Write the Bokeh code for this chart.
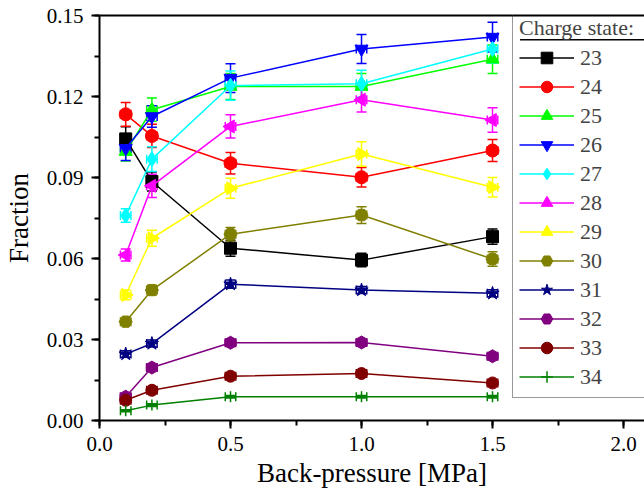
from bokeh.plotting import figure
from bokeh.models import (ColumnDataSource, Whisker, TeeHead, Legend, LegendItem,
                          SingleIntervalTicker, NumeralTickFormatter, LinearAxis,
                          Range1d, BoxAnnotation)
from bokeh.embed import file_html
from bokeh.resources import INLINE
import math

# Back-pressure [MPa]
pressure = [0.1, 0.2, 0.5, 1.0, 1.5]
pressure_err = [0.02, 0.02, 0.02, 0.02, 0.02]

charges = ["23", "24", "25", "26", "27", "28", "29", "30", "31", "32", "33", "34"]

f23 = [0.1043, 0.0885, 0.0638, 0.0594, 0.0681]
f24 = [0.1134, 0.1054, 0.0953, 0.0901, 0.1000]
f25 = [0.0996, 0.1151, 0.1237, 0.1237, 0.1338]
f26 = [0.1008, 0.1126, 0.1268, 0.1376, 0.1420]
f27 = [0.0759, 0.0968, 0.1240, 0.1247, 0.1376]
f28 = [0.0613, 0.0869, 0.1089, 0.1188, 0.1113]
f29 = [0.0465, 0.0675, 0.0860, 0.0987, 0.0864]
f30 = [0.0366, 0.0483, 0.0690, 0.0761, 0.0598]
f31 = [0.0246, 0.0285, 0.0505, 0.0483, 0.0471]
f32 = [0.0088, 0.0196, 0.0288, 0.0289, 0.0238]
f33 = [0.0075, 0.0112, 0.0164, 0.0174, 0.0139]
f34 = [0.0036, 0.0057, 0.0088, 0.0088, 0.0088]

e23 = [0.0045, 0.0035, 0.0030, 0.0025, 0.0028]
e24 = [0.0044, 0.0043, 0.0040, 0.0036, 0.0041]
e25 = [0.0035, 0.0043, 0.0048, 0.0048, 0.0053]
e26 = [0.0045, 0.0040, 0.0053, 0.0054, 0.0055]
e27 = [0.0025, 0.0046, 0.0054, 0.0050, 0.0053]
e28 = [0.0022, 0.0043, 0.0043, 0.0045, 0.0045]
e29 = [0.0018, 0.0030, 0.0037, 0.0045, 0.0036]
e30 = [0.0012, 0.0018, 0.0025, 0.0031, 0.0027]
e31 = [0.0012, 0.0013, 0.0015, 0.0013, 0.0013]
e32 = [0.0008, 0.0010, 0.0012, 0.0012, 0.0010]
e33 = [0.0006, 0.0008, 0.0009, 0.0009, 0.0008]
e34 = [0.0004, 0.0005, 0.0005, 0.0005, 0.0005]

fractions = [f23, f24, f25, f26, f27, f28, f29, f30, f31, f32, f33, f34]
errors = [e23, e24, e25, e26, e27, e28, e29, e30, e31, e32, e33, e34]

colors = ["#000000", "#ff0000", "#00ff00", "#0000ff", "#00ffff", "#ff00ff",
          "#ffff00", "#808000", "#000080", "#800080", "#800000", "#008000"]
markers = ["square", "circle", "triangle", "inverted_triangle", "diamond", "triangle",
           "triangle", "hex", "star", "hex", "circle", "cross"]
angles = [0, 0, 0, 0, 0, math.pi / 2, -math.pi / 2, 0, 0, math.pi / 2, 0, 0]
sizes = [12, 13, 13, 13, 15, 13, 13, 13, 14, 13, 12, 11]

FONT = "Liberation Serif"

p = figure(width=644, height=491, output_backend="svg", toolbar_location=None,
           x_range=Range1d(0, 2.08), y_range=Range1d(0, 0.15),
           min_border_left=95, min_border_right=0, min_border_top=15,
           min_border_bottom=71, outline_line_color=None)
p.background_fill_color = "white"
p.border_fill_color = "white"
p.xgrid.visible = False
p.ygrid.visible = False

# underline of the legend title (decoration, drawn first so legend sits over it)
underline = BoxAnnotation(left=1.605, right=2.08, bottom=0.1407, top=0.1413,
                          fill_color="black", fill_alpha=1, line_color=None)
p.add_layout(underline)

items = []
for i, c in enumerate(charges):
    ys = fractions[i]
    es = errors[i]
    src = ColumnDataSource(dict(
        x=pressure, y=ys,
        up=[y + e for y, e in zip(ys, es)], lo=[y - e for y, e in zip(ys, es)],
        xr=[x + e for x, e in zip(pressure, pressure_err)],
        xl=[x - e for x, e in zip(pressure, pressure_err)],
        ang=[angles[i]] * len(pressure),
    ))
    col = colors[i]
    ln = p.line("x", "y", source=src, line_color=col, line_width=1.5)
    wv = Whisker(source=src, base="x", upper="up", lower="lo", dimension="height",
                 line_color=col, line_width=1.5,
                 upper_head=TeeHead(size=10, line_color=col, line_width=1.5),
                 lower_head=TeeHead(size=10, line_color=col, line_width=1.5))
    wh = Whisker(source=src, base="y", upper="xr", lower="xl", dimension="width",
                 line_color=col, line_width=1.5,
                 upper_head=TeeHead(size=9, line_color=col, line_width=1.5),
                 lower_head=TeeHead(size=9, line_color=col, line_width=1.5))
    p.add_layout(wv)
    p.add_layout(wh)
    if markers[i] == "cross":
        sc = p.scatter("x", "y", source=src, marker="cross", size=sizes[i],
                       line_color=col, line_width=1.5)
    else:
        sc = p.scatter("x", "y", source=src, marker=markers[i], size=sizes[i],
                       angle="ang", fill_color=col, line_color=col, line_width=1)
    items.append(LegendItem(label=c, renderers=[ln, sc], index=0))

legend = Legend(items=items, location=(413, 22), title="Charge state:",
                title_text_font=FONT, title_text_font_size="22px",
                title_text_font_style="normal", title_standoff=2,
                label_text_font=FONT, label_text_font_size="22px",
                glyph_width=55, glyph_height=29, label_height=29, label_width=200,
                label_standoff=6, spacing=0, padding=6, margin=0,
                border_line_color="#333333", border_line_width=1,
                background_fill_color="white", background_fill_alpha=0.0)
p.add_layout(legend, "center")

# axes
xa = p.xaxis[0]
xa.ticker = SingleIntervalTicker(interval=0.5, num_minor_ticks=2)
xa.formatter = NumeralTickFormatter(format="0.0")
ya = p.yaxis[0]
ya.ticker = SingleIntervalTicker(interval=0.03, num_minor_ticks=2)
ya.formatter = NumeralTickFormatter(format="0.00")
for ax in (xa, ya):
    ax.axis_line_width = 2
    ax.major_tick_line_width = 2
    ax.minor_tick_line_width = 2
    ax.major_tick_out = 8
    ax.major_tick_in = 0
    ax.minor_tick_out = 5
    ax.minor_tick_in = 0
    ax.major_label_text_font = FONT
    ax.major_label_text_font_size = "21px"
    ax.major_label_text_color = "black"
    ax.axis_label_text_font = FONT
    ax.axis_label_text_font_size = "27px"
    ax.axis_label_text_font_style = "normal"
    ax.axis_label_text_color = "black"
xa.axis_label = "Back-pressure [MPa]"
ya.axis_label = "Fraction"
xa.major_label_standoff = 8
ya.major_label_standoff = 8
xa.axis_label_standoff = 4
ya.axis_label_standoff = 10

top = LinearAxis(axis_line_width=2, major_tick_line_color=None, minor_tick_line_color=None,
                 major_label_text_font_size="0px", major_label_text_alpha=0)
p.add_layout(top, "above")

open("out.html", "w").write(file_html(p, INLINE))
